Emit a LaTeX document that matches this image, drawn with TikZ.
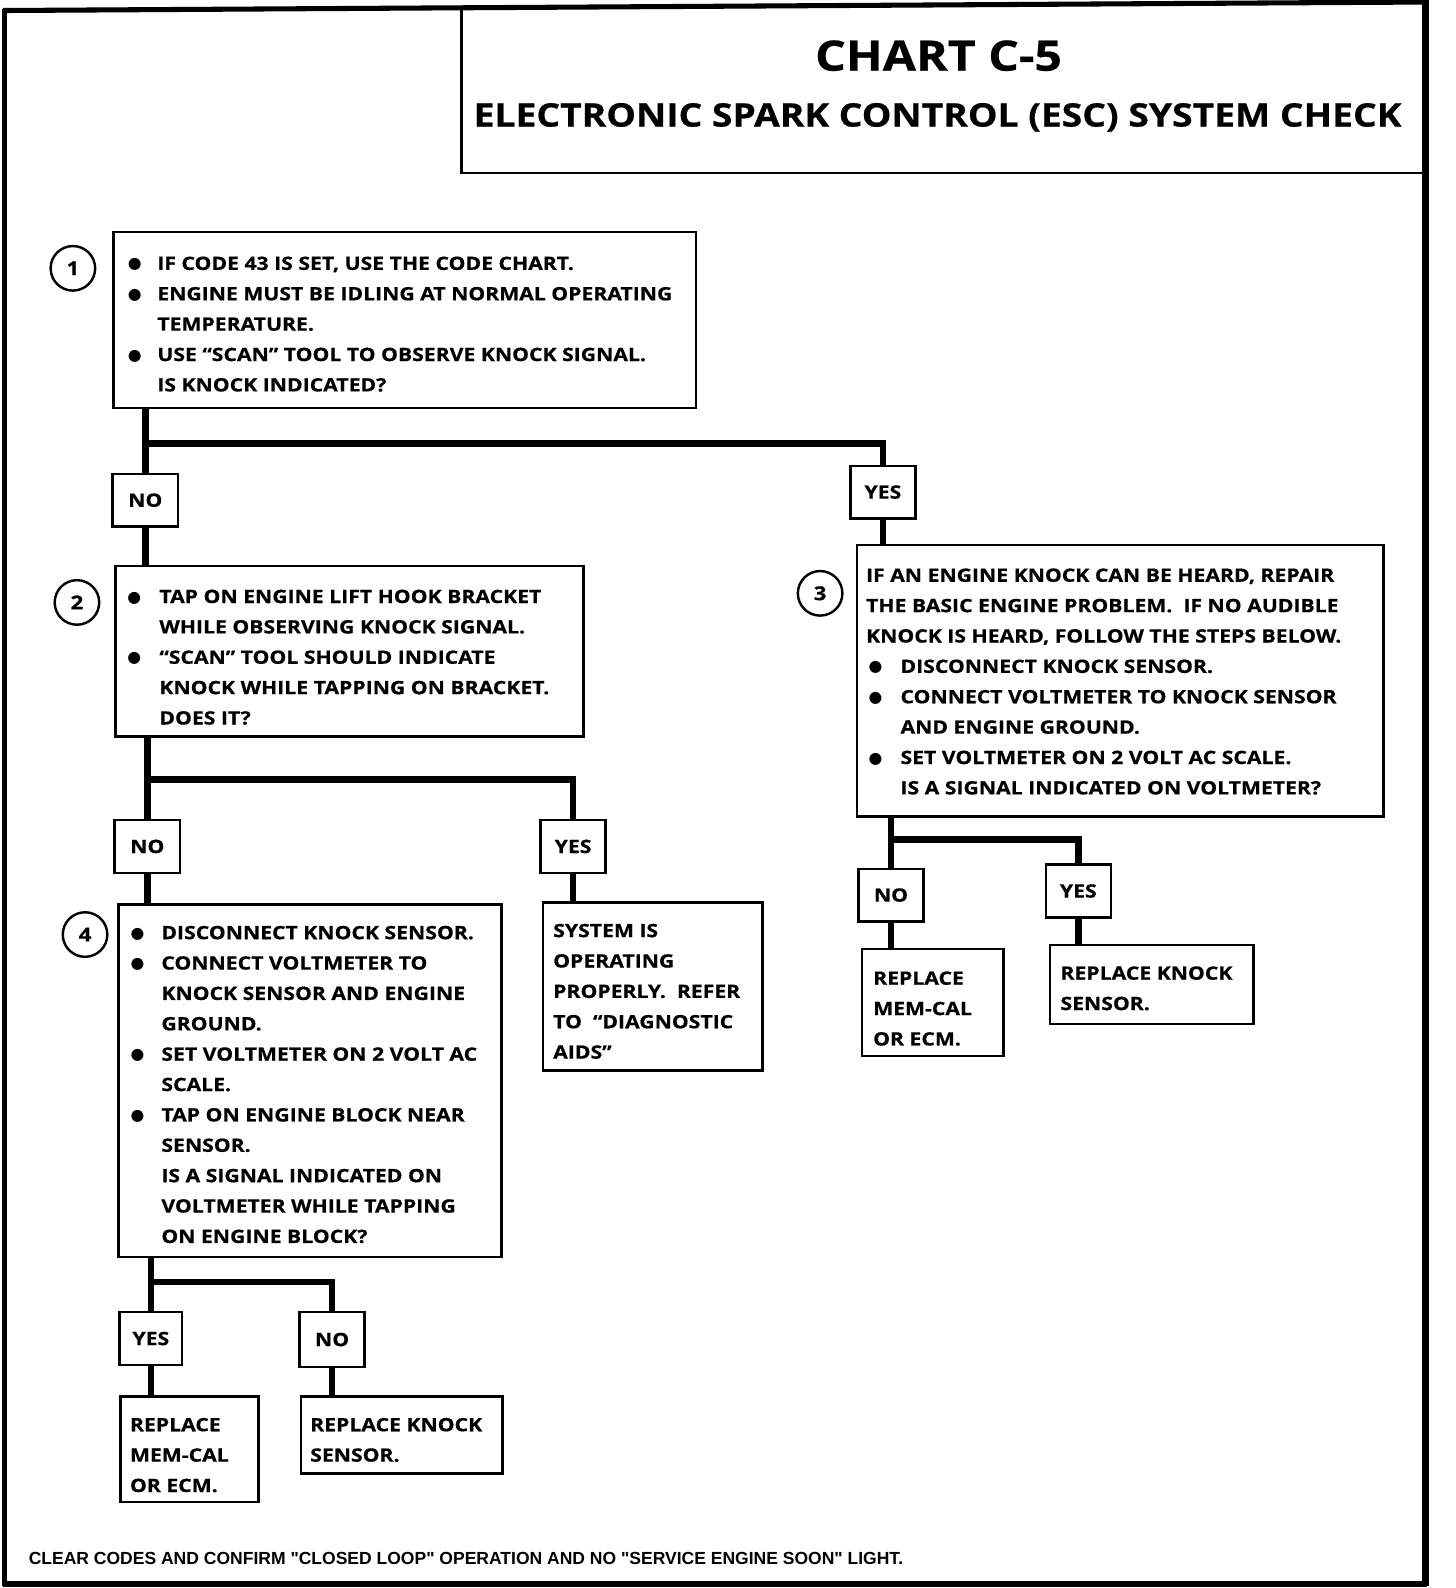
\documentclass[tikz,border=0pt]{standalone}
\usepackage{fontspec}
\setmainfont{Open Sans}[FakeStretch=1.15, BoldFeatures={FakeBold=0.6}]
\newfontfamily\footfont{Liberation Sans}
\newfontfamily\bulfont{DejaVu Sans}
\newcommand\bodyfnt{\bfseries\fontsize{9.1}{15}\selectfont}
\newcommand\mybul[1]{\makebox[#1][l]{\raisebox{0.5pt}{\bulfont\fontsize{7.8}{7.8}\selectfont ●}}}
\newcommand\myind[1]{\hspace*{#1}}
\tikzset{
  box/.style={draw, line width=1.2pt, inner sep=0pt, anchor=north west},
  conn/.style={line width=3.2pt},
  txt/.style={inner sep=0pt, anchor=north west, align=left, font=\bodyfnt},
  yn/.style={draw, line width=1.2pt, inner sep=0pt, font=\bodyfnt},
  num/.style={draw, circle, line width=1.2pt, minimum size=22pt, inner sep=0pt, font=\bfseries\fontsize{9.5}{9.5}\selectfont},
}
\begin{document}
\begin{tikzpicture}[x=0.5pt,y=-0.5pt]
\useasboundingbox (0,0) rectangle (1438,1568.4);
% frame
\draw[line width=2.5pt] (3,10.4) -- (1408,2);
\draw[line width=2.5pt] (4.5,9) -- (4.5,1566);
\draw[line width=3.2pt] (1408,0) -- (1408,1566);
\draw[line width=3pt] (3,1564.5) -- (1409.6,1564.5);
% title box
\draw[line width=1.2pt] (456,6) -- (456,171) -- (1408,171);
\node[inner sep=0pt, font=\bfseries\fontsize{20.7}{21}\selectfont] (title) at (927,55) {CHART C-5};
\node[inner sep=0pt, anchor=base, font=\bfseries\fontsize{16}{17}\selectfont] (subtitle) at (926,125) {ELECTRONIC SPARK CONTROL (ESC) SYSTEM CHECK};

% boxes
\node[box, minimum width=287.5pt, minimum height=87pt] (b1) at (111,228) {};
\node[yn, minimum width=32.5pt, minimum height=26pt] (no1) at (143.5,494) {NO};
\node[yn, minimum width=32pt, minimum height=26pt] (yes1) at (872,486) {YES};
\node[box, minimum width=231pt, minimum height=84pt] (b2) at (113,558) {};
\node[yn, minimum width=32.5pt, minimum height=26pt] (no2) at (145.5,836) {NO};
\node[yn, minimum width=32pt, minimum height=26pt] (yes2) at (566,836) {YES};
\node[box, minimum width=189pt, minimum height=174pt] (b4) at (116,892) {};
\node[box, minimum width=108.5pt, minimum height=83pt] (sys) at (535,890) {};
\node[yn, minimum width=31pt, minimum height=26pt] (yes3) at (149,1322) {YES};
\node[yn, minimum width=32pt, minimum height=27pt] (no3) at (328,1323) {NO};
\node[box, minimum width=68pt, minimum height=52pt] (rl) at (118,1378) {};
\node[box, minimum width=99.5pt, minimum height=38pt] (rkl) at (296,1378) {};
\node[box, minimum width=260pt, minimum height=134pt] (b3) at (845,537) {};
\node[yn, minimum width=32pt, minimum height=26pt] (no4) at (880,884) {NO};
\node[yn, minimum width=32pt, minimum height=26pt] (yes4) at (1065,880) {YES};
\node[box, minimum width=70pt, minimum height=53pt] (rr) at (850,936) {};
\node[box, minimum width=100.5pt, minimum height=39pt] (rkr) at (1036,932) {};

% step numbers
\node[num] (c1) at (72,265) {1};
\node[num] (c2) at (76,595) {2};
\node[num] (c3) at (810,586) {3};
\node[num] (c4) at (84,923) {4};

% texts
\node[txt] (t1) at (126,253) {\mybul{14.5pt}IF CODE 43 IS SET, USE THE CODE CHART.\\
\mybul{14.5pt}ENGINE MUST BE IDLING AT NORMAL OPERATING\\
\myind{14.5pt}TEMPERATURE.\\
\mybul{14.5pt}USE “SCAN” TOOL TO OBSERVE KNOCK SIGNAL.\\
\myind{14.5pt}IS KNOCK INDICATED?};

\node[txt] (t2) at (125.5,582) {\mybul{15.75pt}TAP ON ENGINE LIFT HOOK BRACKET\\
\myind{15.75pt}WHILE OBSERVING KNOCK SIGNAL.\\
\mybul{15.75pt}“SCAN” TOOL SHOULD INDICATE\\
\myind{15.75pt}KNOCK WHILE TAPPING ON BRACKET.\\
\myind{15.75pt}DOES IT?};

\node[txt] (t3) at (855,561) {IF AN ENGINE KNOCK CAN BE HEARD, REPAIR\\
THE BASIC ENGINE PROBLEM.\ \ IF NO AUDIBLE\\
KNOCK IS HEARD, FOLLOW THE STEPS BELOW.\\
\myind{1.25pt}\mybul{15.75pt}DISCONNECT KNOCK SENSOR.\\
\myind{1.25pt}\mybul{15.75pt}CONNECT VOLTMETER TO KNOCK SENSOR\\
\myind{17pt}AND ENGINE GROUND.\\
\myind{1.25pt}\mybul{15.75pt}SET VOLTMETER ON 2 VOLT AC SCALE.\\
\myind{17pt}IS A SIGNAL INDICATED ON VOLTMETER?};

\node[txt] (t4) at (128.5,914) {\mybul{15.25pt}DISCONNECT KNOCK SENSOR.\\
\mybul{15.25pt}CONNECT VOLTMETER TO\\
\myind{15.25pt}KNOCK SENSOR AND ENGINE\\
\myind{15.25pt}GROUND.\\
\mybul{15.25pt}SET VOLTMETER ON 2 VOLT AC\\
\myind{15.25pt}SCALE.\\
\mybul{15.25pt}TAP ON ENGINE BLOCK NEAR\\
\myind{15.25pt}SENSOR.\\
\myind{15.25pt}IS A SIGNAL INDICATED ON\\
\myind{15.25pt}VOLTMETER WHILE TAPPING\\
\myind{15.25pt}ON ENGINE BLOCK?};

\node[txt] (tsys) at (546,912) {SYSTEM IS\\
OPERATING\\
PROPERLY.\ \ REFER\\
TO\ \ “DIAGNOSTIC\\
AIDS”};

\node[txt] (trl) at (128,1400) {REPLACE\\MEM-CAL\\OR ECM.};
\node[txt] (trkl) at (306,1400) {REPLACE KNOCK\\SENSOR.};
\node[txt] (trr) at (862,959) {REPLACE\\MEM-CAL\\OR ECM.};
\node[txt] (trkr) at (1047,954) {REPLACE KNOCK\\SENSOR.};

\node[inner sep=0pt, anchor=north west, font=\footfont\bfseries\fontsize{8.65}{9}\selectfont] (foot) at (28,1533) {CLEAR CODES AND CONFIRM "CLOSED LOOP" OPERATION AND NO "SERVICE ENGINE SOON" LIGHT.};

% connectors
\coordinate (j1) at (143.5,438);
\draw[conn] (b1.south -| no1.north) -- (no1.north);
\draw[conn] (j1) -| (yes1.north);
\draw[conn] (no1.south) -- (no1.south |- b2.north);
\draw[conn] (yes1.south) -- (yes1.south |- b3.north);

\coordinate (j2) at (145.5,770);
\draw[conn] (b2.south -| no2.north) -- (no2.north);
\draw[conn] (j2) -| (yes2.north);
\draw[conn] (no2.south) -- (no2.south |- b4.north);
\draw[conn] (yes2.south) -- (yes2.south |- sys.north);

\coordinate (j4) at (149,1266);
\draw[conn] (b4.south -| yes3.north) -- (yes3.north);
\draw[conn] (j4) -| (no3.north);
\draw[conn] (yes3.south) -- (yes3.south |- rl.north);
\draw[conn] (no3.south) -- (no3.south |- rkl.north);

\coordinate (j3) at (880,829);
\draw[conn] (b3.south -| no4.north) -- (no4.north);
\draw[conn] (j3) -| (yes4.north);
\draw[conn] (no4.south) -- (no4.south |- rr.north);
\draw[conn] (yes4.south) -- (yes4.south |- rkr.north);
\end{tikzpicture}
\end{document}
